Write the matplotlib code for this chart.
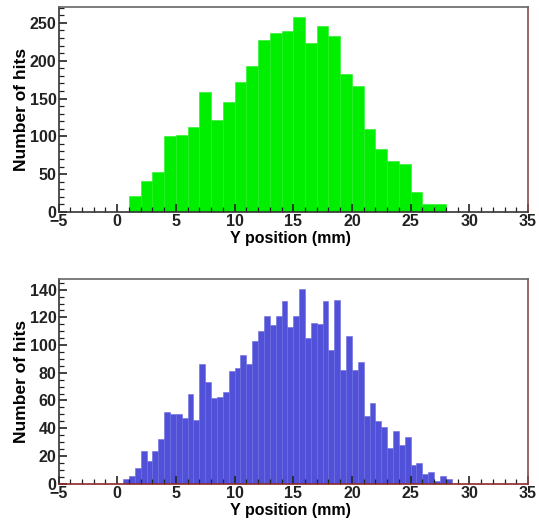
import matplotlib.pyplot as plt
from matplotlib.ticker import MultipleLocator

plt.rcParams['font.family'] = ['Liberation Sans', 'DejaVu Sans']
plt.rcParams['font.weight'] = 'bold'

# top histogram: 1 mm bins, first non-empty bin starts at 1 mm
top_start = 1.0
top_width = 1.0
top_counts = [21, 41, 53, 100, 102, 113, 159, 121, 145, 172, 193, 227, 236, 239,
              258, 224, 246, 233, 183, 167, 110, 83, 67, 63, 26, 10, 10]

# bottom histogram: 0.5 mm bins, first non-empty bin starts at 0.5 mm
bot_start = 0.5
bot_width = 0.5
bot_counts = [3.5, 5.5, 11, 23.5, 16.5, 23.5, 32.5, 51.5, 50, 50, 47.5, 65, 46,
              86.5, 73, 61.5, 62.5, 66, 81.6, 83.5, 92.7, 86, 103, 110, 121, 114.5,
              121, 131.5, 113, 121, 140.5, 105, 116, 115, 131.5, 96.5, 132.3, 82,
              106.7, 82, 87.4, 49, 58, 44.8, 41, 25.3, 37.8, 28, 33.8, 13.3, 14.5,
              6.8, 8, 1.9, 5.3, 3.1]

top_edges = [top_start + i * top_width for i in range(len(top_counts))]
bot_edges = [bot_start + i * bot_width for i in range(len(bot_counts))]

fig = plt.figure(figsize=(5.39, 5.20), dpi=100)
W, H = 539, 520
ax1 = fig.add_axes([58.5 / W, 1 - 212 / H, (528 - 58.5) / W, (212 - 7) / H])
ax2 = fig.add_axes([58.5 / W, 1 - 483.5 / H, (528 - 58.5) / W, (483.5 - 279) / H])


def style(ax, ymax, ymajor, yminor, bottom_color):
    ax.set_xlim(-5, 35)
    ax.set_ylim(0, ymax)
    ax.xaxis.set_major_locator(MultipleLocator(5))
    ax.xaxis.set_minor_locator(MultipleLocator(1))
    ax.yaxis.set_major_locator(MultipleLocator(ymajor))
    ax.yaxis.set_minor_locator(MultipleLocator(yminor))
    ax.tick_params(which='both', direction='in', top=False, right=False,
                   labelsize=11.5, colors='#222222', pad=1.5)
    ax.tick_params(which='major', length=6, width=1.2)
    ax.tick_params(which='minor', length=3.5, width=0.9)
    ax.spines['left'].set_color('#333333')
    ax.spines['top'].set_color('#666666')
    ax.spines['right'].set_color('#8b4a4a')
    ax.spines['bottom'].set_color(bottom_color)
    for s in ax.spines.values():
        s.set_linewidth(1.2)
    ax.set_xlabel('Y position (mm)', fontsize=11.5, fontweight='bold')
    ax.set_ylabel('Number of hits', fontsize=12.5, fontweight='bold')
    ax.xaxis.set_label_coords(0.495, -0.095)
    ax.yaxis.set_label_coords(-0.078, 0.5)
    ax.yaxis.get_label().set_verticalalignment('center')


ax1.bar(top_edges, top_counts, width=top_width, align='edge',
        color='#00ee00', edgecolor='#22f022', linewidth=0.4)
style(ax1, 271, 50, 10, '#333333')

ax2.bar(bot_edges, bot_counts, width=bot_width, align='edge',
        color='#5050d8', edgecolor='#6a6ae0', linewidth=0.4)
style(ax2, 147.7, 20, 5, '#8b2a2a')

fig.savefig('out.png', dpi=100)
